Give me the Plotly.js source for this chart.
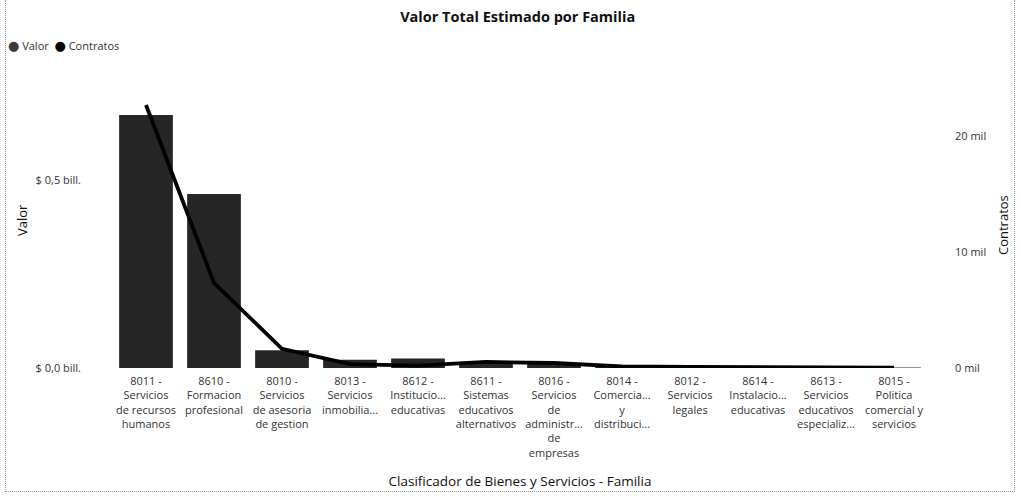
<!DOCTYPE html>
<html>
<head>
<meta charset="utf-8">
<script src="https://cdn.plot.ly/plotly-3.0.1.min.js"></script>
<style>
  html, body { margin: 0; padding: 0; background: #fff; }
  #chart { position: absolute; left: 0; top: 0; width: 1021px; height: 498px; }
  #frame { position: absolute; left: 5px; top: 0; width: 1008px; height: 491px;
           border-left: 1px dotted #9a9a9a; border-right: 1px dotted #9a9a9a; border-bottom: 1px dotted #9a9a9a;
           pointer-events: none; }
</style>
</head>
<body>
<div id="chart"></div>
<div id="frame"></div>
<script>
// Categories (Clasificador de Bienes y Servicios - Familia)
const categories = [
  "8011 -<br>Servicios<br>de recursos<br>humanos",
  "8610 -<br>Formacion<br>profesional",
  "8010 -<br>Servicios<br>de asesoria<br>de gestion",
  "8013 -<br>Servicios<br>inmobilia...",
  "8612 -<br>Institucio...<br>educativas",
  "8611 -<br>Sistemas<br>educativos<br>alternativos",
  "8016 -<br>Servicios<br>de<br>administr...<br>de<br>empresas",
  "8014 -<br>Comercia...<br>y<br>distribuci...",
  "8012 -<br>Servicios<br>legales",
  "8614 -<br>Instalacio...<br>educativas",
  "8613 -<br>Servicios<br>educativos<br>especializ...",
  "8015 -<br>Politica<br>comercial y<br>servicios"
];
// Valor (billones de $)
const valor = [0.673, 0.463, 0.047, 0.022, 0.025, 0.013, 0.012, 0.004, 0.003, 0.002, 0.0015, 0.001];
// Contratos (count)
const contratos = [22670, 7330, 1650, 330, 200, 520, 430, 130, 90, 60, 40, 25];

const valorTicks = [0, 0.5];
const valorTickText = ["$ 0,0 bill.", "$ 0,5 bill."];
const contratosTicks = [0, 10000, 20000];
const contratosTickText = ["0 mil", "10 mil", "20 mil"];

const legendNames = ["Valor", "Contratos"];
const legendColors = ["#3a3a3a", "#000000"];

const FONT = "Open Sans, Noto Sans, sans-serif";
const TXT = "#333333";

const traces = [
  {
    type: "bar", name: "Valor", x: categories, y: valor,
    marker: { color: "#262626" }, showlegend: false, yaxis: "y"
  },
  {
    type: "scatter", mode: "lines", name: "Contratos", x: categories, y: contratos,
    line: { color: "#000000", width: 3.8 }, showlegend: false, yaxis: "y2"
  }
];

const legendText = legendNames.map((n, i) =>
  `<span style="color:${legendColors[i]};font-family:DejaVu Sans;font-size:13px">●</span> ${n}`).join("  ");

const PLOT_L = 112, PLOT_W = 816, PLOT_T = 95, PLOT_H = 273;

const layout = {
  width: 1021, height: 498,
  paper_bgcolor: "#ffffff", plot_bgcolor: "#ffffff",
  font: { family: FONT, size: 11, color: TXT },
  margin: { l: PLOT_L, r: 1021 - PLOT_L - PLOT_W, t: PLOT_T, b: 498 - PLOT_T - PLOT_H, pad: 0 },
  bargap: 0.21,
  showlegend: false,
  title: {
    text: "<b>Valor Total Estimado por Familia</b>",
    font: { family: FONT, size: 14.5, color: "#111" },
    x: 0.507, xref: "container", xanchor: "center",
    y: 1 - 17 / 498, yref: "container", yanchor: "middle"
  },
  annotations: [
    {
      text: legendText, showarrow: false,
      xref: "paper", yref: "paper",
      x: (6 - PLOT_L) / PLOT_W, xanchor: "left",
      y: 1 + (PLOT_T - 46) / PLOT_H, yanchor: "middle",
      font: { family: FONT, size: 11, color: TXT }
    },
    {
      text: "Valor", showarrow: false, textangle: -90,
      xref: "paper", yref: "paper",
      x: (22 - PLOT_L) / PLOT_W, xanchor: "center",
      y: 1 - (220 - PLOT_T) / PLOT_H, yanchor: "middle",
      font: { family: FONT, size: 13, color: "#111" }
    },
    {
      text: "Contratos", showarrow: false, textangle: -90,
      xref: "paper", yref: "paper",
      x: (1003 - PLOT_L) / PLOT_W, xanchor: "center",
      y: 1 - (225 - PLOT_T) / PLOT_H, yanchor: "middle",
      font: { family: FONT, size: 13, color: "#111" }
    }
  ],
  xaxis: {
    type: "category", automargin: false,
    showgrid: false, zeroline: false, showline: false, ticks: "",
    tickangle: 0, tickfont: { family: FONT, size: 11, color: TXT },
    ticklabelstandoff: 5,
    title: { text: "Clasificador de Bienes y Servicios - Familia",
             font: { family: FONT, size: 13.5, color: "#111" }, standoff: 18 }
  },
  yaxis: {
    range: [0, 0.726], automargin: false,
    showgrid: false, zeroline: false, showline: false, ticks: "",
    tickvals: valorTicks, ticktext: valorTickText,
    tickfont: { family: FONT, size: 11, color: TXT },
    ticklabelstandoff: 30
  },
  yaxis2: {
    range: [0, 23530], overlaying: "y", side: "right", automargin: false,
    showgrid: false, zeroline: false, showline: false, ticks: "",
    tickvals: contratosTicks, ticktext: contratosTickText,
    tickfont: { family: FONT, size: 11, color: TXT },
    ticklabelstandoff: 26
  }
};

Plotly.newPlot("chart", traces, layout, { displayModeBar: false, staticPlot: true });
</script>
</body>
</html>
